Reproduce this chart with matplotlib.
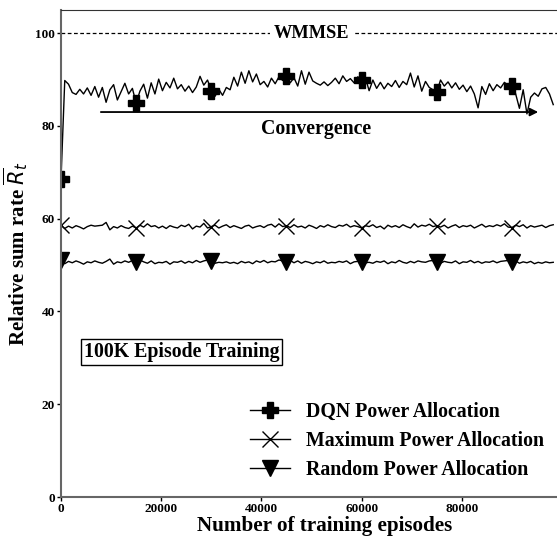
import matplotlib.pyplot as plt
import numpy as np

# episode grid the curves were sampled on (one sample every 750 episodes)
episodes = np.arange(0, 98251, 750)

dqn_rate = [
    68.5, 89.8, 89.0, 87.2, 86.8, 87.9, 86.9, 88.2, 86.6, 88.5,
    86.2, 88.3, 85.1, 87.8, 88.9, 85.6, 87.4, 89.2, 86.9, 88.1,
    84.9, 87.5, 89.0, 86.0, 89.3, 86.9, 90.1, 87.6, 89.4, 88.2,
    90.3, 88.0, 88.9, 87.5, 88.6, 87.2, 88.4, 90.7, 88.8, 89.9,
    87.6, 86.4, 87.9, 86.6, 88.3, 87.8, 90.5, 88.6, 91.6, 89.2,
    91.9, 89.5, 91.2, 88.9, 89.6, 88.4, 90.3, 89.1, 90.6, 89.8,
    90.7, 89.3, 90.4, 88.6, 91.9, 89.0, 91.6, 89.7, 89.2, 88.8,
    89.5, 88.7, 89.4, 90.3, 89.1, 90.8, 89.6, 90.2, 89.3, 90.6,
    89.8, 90.4, 87.6, 89.9, 88.1, 89.4, 88.0, 89.2, 88.5, 89.8,
    88.3, 89.6, 88.9, 91.4, 88.4, 90.8, 87.5, 89.6, 88.3, 87.8,
    87.3, 89.9, 88.6, 89.5, 88.2, 89.3, 87.9, 88.8, 87.4, 88.6,
    86.9, 83.9, 88.5, 86.8, 89.1, 87.6, 88.9, 88.2, 89.4, 88.7,
    88.6, 86.9, 83.8, 87.8, 82.6, 86.2, 87.1, 86.4, 88.0, 88.3,
    86.9, 84.6,
]

max_rate = [
    58.6, 57.9, 58.4, 58.0, 58.5, 58.2, 57.8, 58.3, 58.6, 58.4,
    58.5, 58.6, 59.2, 57.6, 58.3, 58.0, 58.5, 58.1, 57.9, 58.4,
    58.0, 58.6, 58.2, 58.9, 58.3, 58.5, 58.0, 58.4, 57.9, 58.5,
    58.2, 58.0, 58.6, 58.3, 58.8, 57.8, 58.4, 58.2, 59.0, 58.0,
    58.3, 58.6, 58.0, 58.4, 58.7, 58.1, 58.5, 58.2, 57.9, 58.4,
    58.6, 58.0, 58.3, 58.5, 58.1, 58.6, 58.8, 58.2, 58.9, 58.3,
    58.5, 58.1, 58.7, 58.2, 58.4, 58.0, 58.6, 58.3, 57.9, 58.5,
    58.2, 58.7, 58.3, 58.1, 58.6, 58.4, 58.8, 58.2, 58.5, 58.3,
    58.0, 58.5, 58.3, 58.7, 58.1, 58.4, 57.8, 58.6, 58.2, 58.5,
    58.1, 58.7, 58.3, 58.0, 58.9, 58.2, 58.6, 58.4, 58.8, 58.3,
    58.5, 58.2, 58.6, 58.0, 58.4, 58.7, 58.1, 58.5, 58.3, 58.6,
    58.0, 58.4, 58.8, 58.2, 58.5, 58.3, 58.7, 58.4, 58.9, 58.2,
    58.1, 58.6, 58.3, 58.7, 58.0, 58.5, 58.2, 58.4, 58.6, 58.1,
    58.5, 58.7,
]

random_rate = [
    51.0, 50.3, 50.8, 50.5, 50.9, 50.6, 50.2, 50.7, 50.5, 50.9,
    50.6, 50.4, 50.8, 51.3, 50.2, 50.7, 50.5, 50.9, 50.6, 51.0,
    50.6, 51.1, 50.7, 50.4, 50.9, 50.3, 50.6, 50.5, 50.8, 50.2,
    50.7, 50.6, 50.9, 50.4, 50.8, 50.5, 51.0, 50.6, 50.9, 51.1,
    50.8, 50.4, 50.6, 50.5, 50.7, 50.4, 50.6, 50.3, 50.8, 50.5,
    50.7, 50.3, 50.9, 50.6, 51.0, 50.5, 50.8, 50.7, 51.1, 50.9,
    50.7, 51.0, 50.5, 50.9, 50.4, 50.8, 50.6, 50.3, 50.7, 50.5,
    50.9, 50.4, 50.6, 50.5, 50.8, 50.6, 50.9, 50.3, 50.7, 50.8,
    50.7, 50.5, 50.6, 50.4, 50.8, 50.6, 50.9, 50.3, 50.7, 50.5,
    51.0, 50.6, 50.4, 50.8, 50.5, 50.9, 50.7, 50.6, 50.9, 51.0,
    50.7, 50.4, 50.8, 50.6, 50.5, 50.9, 50.3, 50.7, 50.6, 51.0,
    50.5, 50.8, 50.4, 50.7, 50.6, 50.9, 50.5, 50.8, 50.9, 51.0,
    50.6, 50.9, 50.4, 50.7, 50.5, 50.8, 50.3, 50.6, 50.4, 50.7,
    50.5, 50.6,
]

wmmse_level = 100
marker_every = 20  # one marker every 15000 episodes

plt.rcParams["font.family"] = "Liberation Serif"
plt.rcParams["font.weight"] = "bold"
plt.rcParams["mathtext.fontset"] = "custom"
plt.rcParams["mathtext.it"] = "DejaVu Sans:style=italic:weight=normal"
plt.rcParams["mathtext.rm"] = "DejaVu Sans:weight=normal"

fig = plt.figure(figsize=(5.57, 5.36), dpi=100)
ax = fig.add_axes([61 / 557, 39 / 536, 1 - 61 / 557, (497 - 10) / 536])

ax.plot(episodes, dqn_rate, color="black", linewidth=1.0, marker="P", markersize=11,
        markevery=marker_every, label="DQN Power Allocation")
ax.plot(episodes, max_rate, color="black", linewidth=1.0, marker="x", markersize=11,
        markeredgewidth=1.0, markevery=marker_every, label="Maximum Power Allocation")
ax.plot(episodes, random_rate, color="black", linewidth=1.0, marker="v", markersize=11,
        markevery=marker_every, label="Random Power Allocation")

ax.axhline(wmmse_level, color="black", linestyle="--", linewidth=0.9, dashes=(3, 2))
ax.text(50000, wmmse_level, "WMMSE", ha="center", va="center", fontsize=13.2, fontweight="bold",
        bbox=dict(facecolor="white", edgecolor="none", pad=3))

ax.annotate("", xy=(95800, 83), xytext=(7400, 83),
            arrowprops=dict(arrowstyle="-|>", color="black", linewidth=1.3, mutation_scale=12))
ax.text(50900, 79.4, "Convergence", ha="center", va="center", fontsize=14.3, fontweight="bold")

ax.text(4500, 31.3, "100K Episode Training", ha="left", va="center", fontsize=14.3, fontweight="bold",
        bbox=dict(facecolor="white", edgecolor="black", linewidth=1.0, boxstyle="square", pad=0.15))

ax.set_xlim(0, 99000)
ax.set_ylim(0, 105)
ax.set_xticks([0, 20000, 40000, 60000, 80000])
ax.set_yticks([0, 20, 40, 60, 80, 100])
ax.tick_params(labelsize=9.5, length=3, width=1, pad=1.5)
for lab in ax.get_xticklabels() + ax.get_yticklabels():
    lab.set_fontweight("bold")

ax.spines["right"].set_visible(False)
ax.spines["left"].set_color("#666666")
ax.spines["bottom"].set_color("#666666")
ax.spines["left"].set_linewidth(1.5)
ax.spines["bottom"].set_linewidth(1.5)
ax.spines["top"].set_color("#333333")

ax.set_xlabel("Number of training episodes", fontsize=15.2, fontweight="bold")
ax.set_ylabel(r"Relative sum rate $\overline{R}_t$", fontsize=15, fontweight="bold")
ax.xaxis.set_label_coords((325 - 61) / 496, -0.038)
ax.yaxis.set_label_coords(-0.062, 0.5)

ax.legend(loc="center left", bbox_to_anchor=((250 - 61) / 496, (497 - 441) / 487),
          frameon=False, borderpad=0, borderaxespad=0, handlelength=2.0, handletextpad=0.8,
          labelspacing=0.45, prop={"weight": "bold", "size": 14.3})

fig.savefig("out.png", dpi=100)
